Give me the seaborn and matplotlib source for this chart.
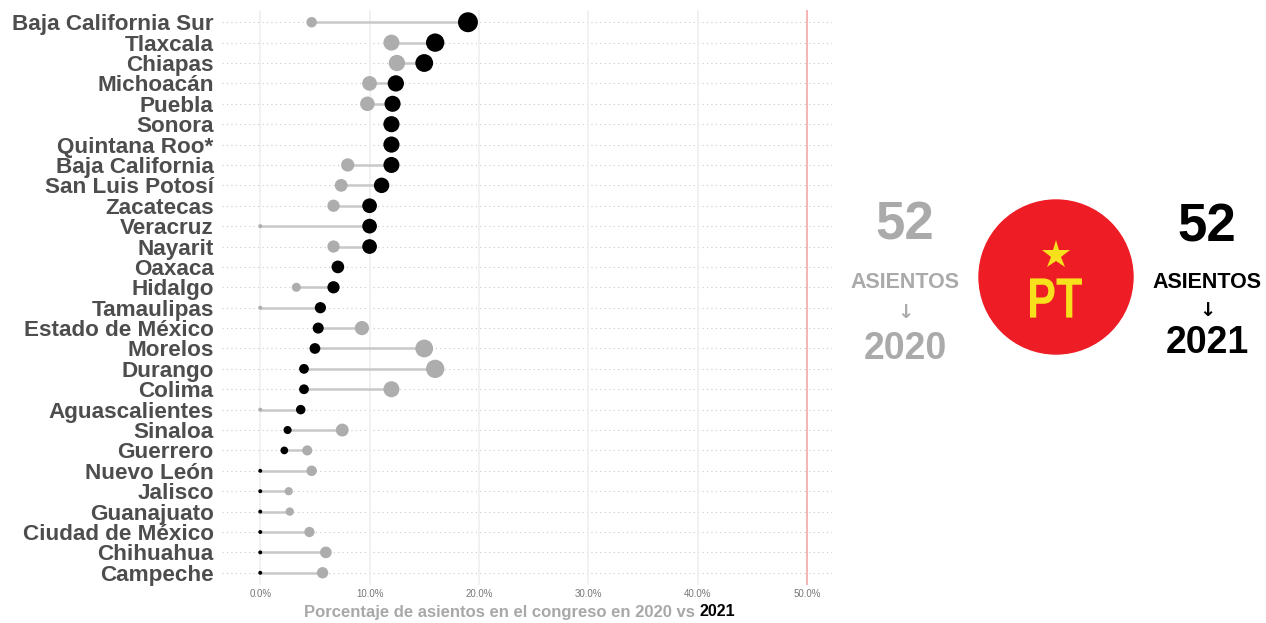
import numpy as np
import pandas as pd
import seaborn as sns
import matplotlib.pyplot as plt
from matplotlib.patches import Circle, PathPatch
from matplotlib.textpath import TextPath
from matplotlib.font_manager import FontProperties
from matplotlib.transforms import Affine2D

# porcentaje de asientos del PT por congreso estatal
estados = ['Baja California Sur', 'Tlaxcala', 'Chiapas', 'Michoacán', 'Puebla', 'Sonora',
           'Quintana Roo*', 'Baja California', 'San Luis Potosí', 'Zacatecas', 'Veracruz',
           'Nayarit', 'Oaxaca', 'Hidalgo', 'Tamaulipas', 'Estado de México', 'Morelos',
           'Durango', 'Colima', 'Aguascalientes', 'Sinaloa', 'Guerrero', 'Nuevo León',
           'Jalisco', 'Guanajuato', 'Ciudad de México', 'Chihuahua', 'Campeche']
pct_2020 = [4.7, 12.0, 12.5, 10.0, 9.8, 12.0, 12.0, 8.0, 7.4, 6.7, 0.0, 6.7, 7.1, 3.3,
            0.0, 9.3, 15.0, 16.0, 12.0, 0.0, 7.5, 4.3, 4.7, 2.6, 2.7, 4.5, 6.0, 5.7]
pct_2021 = [19.0, 16.0, 15.0, 12.4, 12.1, 12.0, 12.0, 12.0, 11.1, 10.0, 10.0, 10.0, 7.1, 6.7,
            5.5, 5.3, 5.0, 4.0, 4.0, 3.7, 2.5, 2.2, 0.0, 0.0, 0.0, 0.0, 0.0, 0.0]
ticks = [0, 10, 20, 30, 40, 50]
asientos_2020 = 52
asientos_2021 = 52

df = pd.DataFrame({'estado': estados, 'p2020': pct_2020, 'p2021': pct_2021})
df['fila'] = np.arange(len(df))

sns.set_theme(style='white')
plt.rcParams['font.family'] = ['Liberation Sans', 'DejaVu Sans']

fig = plt.figure(figsize=(12.66, 6.23), dpi=100)
ax = fig.add_axes([222 / 1266, 38 / 623, 610 / 1266, 575 / 623])

for y in df['fila']:
    ax.axhline(y, color='#c8c8c8', lw=0.8, ls=(0, (1, 3)), zorder=0)
for x in ticks[:-1]:
    ax.axvline(x, color='#efefef', lw=1.2, zorder=0)
ax.axvline(50, color='#f2a0a0', lw=1.1, zorder=1)

ax.hlines(df['fila'], df['p2020'], df['p2021'], color='#c8c8c8', lw=1.8, zorder=2)
sns.scatterplot(data=df, x='p2020', y='fila', size='p2020', sizes=(8, 206), size_norm=(0, 19),
                color='#adadad', edgecolor='none', legend=False, ax=ax, zorder=3)
sns.scatterplot(data=df, x='p2021', y='fila', size='p2021', sizes=(8, 206), size_norm=(0, 19),
                color='black', edgecolor='none', legend=False, ax=ax, zorder=4)

ax.set_xlim(-3.5, 52.3)
ax.set_ylim(27.6, -0.6)
ax.set_xticks(ticks)
ax.set_xticklabels([f'{t:.1f}%' for t in ticks], fontsize=7, color='#777777')
ax.set_yticks(df['fila'])
ax.set_yticklabels(df['estado'], fontsize=16.2, fontweight='bold', color='#4d4d4d')
ax.tick_params(axis='x', length=0, pad=3)
ax.tick_params(axis='y', length=0, pad=6)
ax.set_xlabel('')
ax.set_ylabel('')
sns.despine(ax=ax, left=True, bottom=True)

# capa en pixeles para el titulo del eje y el panel derecho
ov = fig.add_axes([0, 0, 1, 1])
ov.set_xlim(0, 1266)
ov.set_ylim(623, 0)
ov.axis('off')
ov.patch.set_alpha(0)

ov.text(695, 612, 'Porcentaje de asientos en el congreso en 2020 vs', ha='right', va='center',
        fontsize=12, fontweight='bold', color='#a8a8a8')
ov.text(700, 612, '2021', ha='left', va='center', fontsize=11.5, fontweight='bold', color='black')

gris = '#aaaaaa'
ov.text(905, 226, str(asientos_2020), ha='center', va='center', fontsize=38, fontweight='bold', color=gris)
ov.text(905, 282, 'ASIENTOS', ha='center', va='center', fontsize=15.5, fontweight='bold', color=gris)
ov.text(905, 312, '↓', ha='center', va='center', fontsize=14, fontweight='bold', color=gris,
        family='DejaVu Sans')
ov.text(905, 349, '2020', ha='center', va='center', fontsize=27, fontweight='bold', color=gris)

ov.add_patch(Circle((1056, 277), 77, color='#ee1c25', zorder=1))
ov.plot([1056], [255], marker='*', markersize=21, color='#f7e01c', markeredgewidth=0, zorder=2)

# logo "PT" en letra condensada
tp = TextPath((0, 0), 'PT', size=57, prop=FontProperties(family='Liberation Sans', weight='bold'))
bb = tp.get_extents()
sx = 52 / bb.width
tr = (Affine2D().translate(-(bb.x0 + bb.width / 2), -(bb.y0 + bb.height / 2))
      .scale(sx, -1).translate(1056, 298))
ov.add_patch(PathPatch(tr.transform_path(tp), facecolor='#f7e01c', edgecolor='none', zorder=2))

ov.text(1207, 228, str(asientos_2021), ha='center', va='center', fontsize=38, fontweight='bold', color='black')
ov.text(1207, 282, 'ASIENTOS', ha='center', va='center', fontsize=15.5, fontweight='bold', color='black')
ov.text(1207, 310, '↓', ha='center', va='center', fontsize=14, fontweight='bold', color='black',
        family='DejaVu Sans')
ov.text(1207, 343, '2021', ha='center', va='center', fontsize=27, fontweight='bold', color='black')

fig.savefig('out.png', dpi=100)
